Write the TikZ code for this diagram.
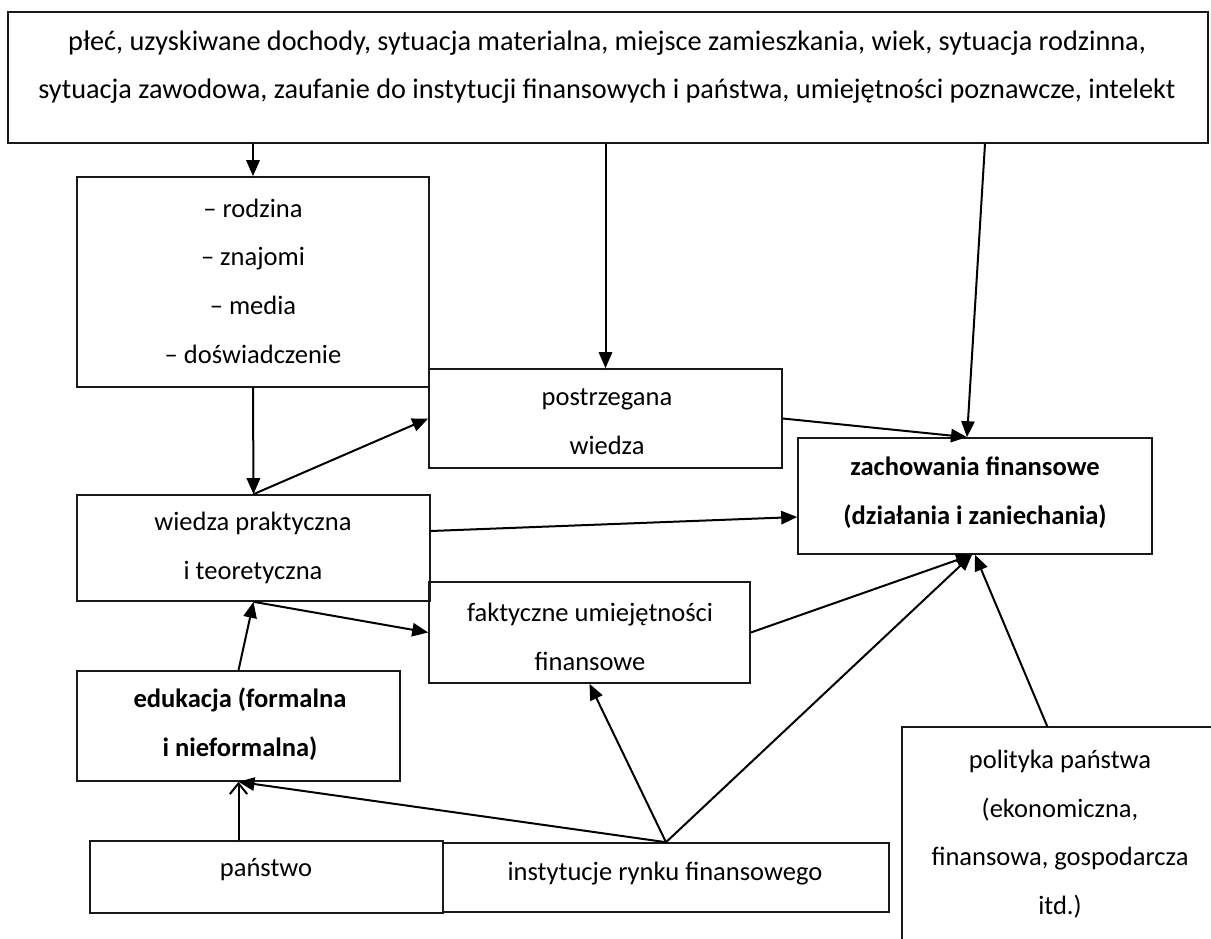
\documentclass[tikz,border=0pt]{standalone}
\usepackage{fontspec}
\setmainfont{Carlito}
\usetikzlibrary{arrows.meta,fit,calc}
\begin{document}
\begin{tikzpicture}[x=0.75pt,y=-0.75pt,
  box/.style={draw=black!90,line width=1.2pt,inner sep=0pt,rectangle},
  txt/.style={align=center,inner sep=0pt,font=\fontsize{19.9}{36.5}\selectfont},
  btxt/.style={txt,font=\fontsize{19.9}{36.5}\selectfont\bfseries},
  ttxt/.style={txt,font=\fontsize{21.2}{36.5}\selectfont},
  arr/.style={line width=1.5pt,-{Triangle[length=12pt,width=10pt]}},
  oarr/.style={line width=1.5pt,-{Straight Barb[length=8pt,width=13pt,line width=1.5pt]}}]
\clip (0,0) rectangle (1211,939);
\fill[white] (0,0) rectangle (1211,939);
% boxes
\node[box,fit={(8,12) (1208,143)}] (top) {};
\node[box,fit={(77,177) (429,387)}] (rod) {};
\node[box,fit={(429,369) (782,468)}] (post) {};
\node[box,fit={(798,438) (1152,554)}] (zach) {};
\node[box,fit={(77,495) (430,601)}] (wied) {};
\node[box,fit={(429,582) (750,683)}] (fakt) {};
\node[box,fit={(77,671) (400,781)}] (edu) {};
\node[box,fit={(90,841) (443,913)}] (pan) {};
\node[box,fit={(443,843) (889,912)}] (inst) {};
\node[box,fit={(902,727) (1240,990)}] (pol) {};
% texts
\node[ttxt] (top-t) at (607,67) {płeć, uzyskiwane dochody, sytuacja materialna, miejsce zamieszkania, wiek, sytuacja rodzinna,\\sytuacja zawodowa, zaufanie do instytucji finansowych i państwa, umiejętności poznawcze, intelekt};
\node[txt] (rod-t) at (253,281) {– rodzina\\– znajomi\\– media\\– doświadczenie};
\node[txt] (post-t) at (607,422) {postrzegana\\wiedza};
\node[btxt] (zach-t) at (975,493) {zachowania finansowe\\(działania i zaniechania)};
\node[txt] (wied-t) at (253,548) {wiedza praktyczna\\i teoretyczna};
\node[txt] (fakt-t) at (590,637) {faktyczne umiejętności\\finansowe};
\node[btxt] (edu-t) at (240,724) {edukacja (formalna\\i nieformalna)};
\node[txt] (pan-t) at (266,870) {państwo};
\node[txt] (inst-t) at (665,874) {instytucje rynku finansowego};
\node[txt] (pol-t) at (1060,834) {polityka państwa\\(ekonomiczna,\\finansowa, gospodarcza\\itd.)};
% connectors
\draw[arr] (rod.north |- top.south) -- (rod.north);
\draw[arr] (post.north |- top.south) -- (post.north);
\draw[arr] ($(top.south)+(377,0)$) -- ($(zach.north)+(-8,0)$);
\draw[arr] (rod.south) -- (wied.north);
\draw[arr] (wied.north) -- (post.west);
\draw[arr] (post.east) -- ($(zach.north)+(-8,0)$);
\draw[arr] ($(wied.east)+(0,-17)$) -- ($(zach.west)+(0,21)$);
\draw[arr] (wied.south) -- (fakt.west);
\draw[arr] (edu.north) -- (wied.south);
\draw[arr] (fakt.east) -- ($(zach.south)+(-3,0)$);
\draw[arr] (inst.north) -- ($(zach.south)+(-3,0)$);
\draw[arr] (inst.north) -- (fakt.south);
\draw[arr] (inst.north) -- (edu.south);
\draw[oarr] (edu.south |- pan.north) -- (edu.south);
\draw[arr] ($(pol.north west)+(146,0)$) -- (zach.south);
\end{tikzpicture}
\end{document}
